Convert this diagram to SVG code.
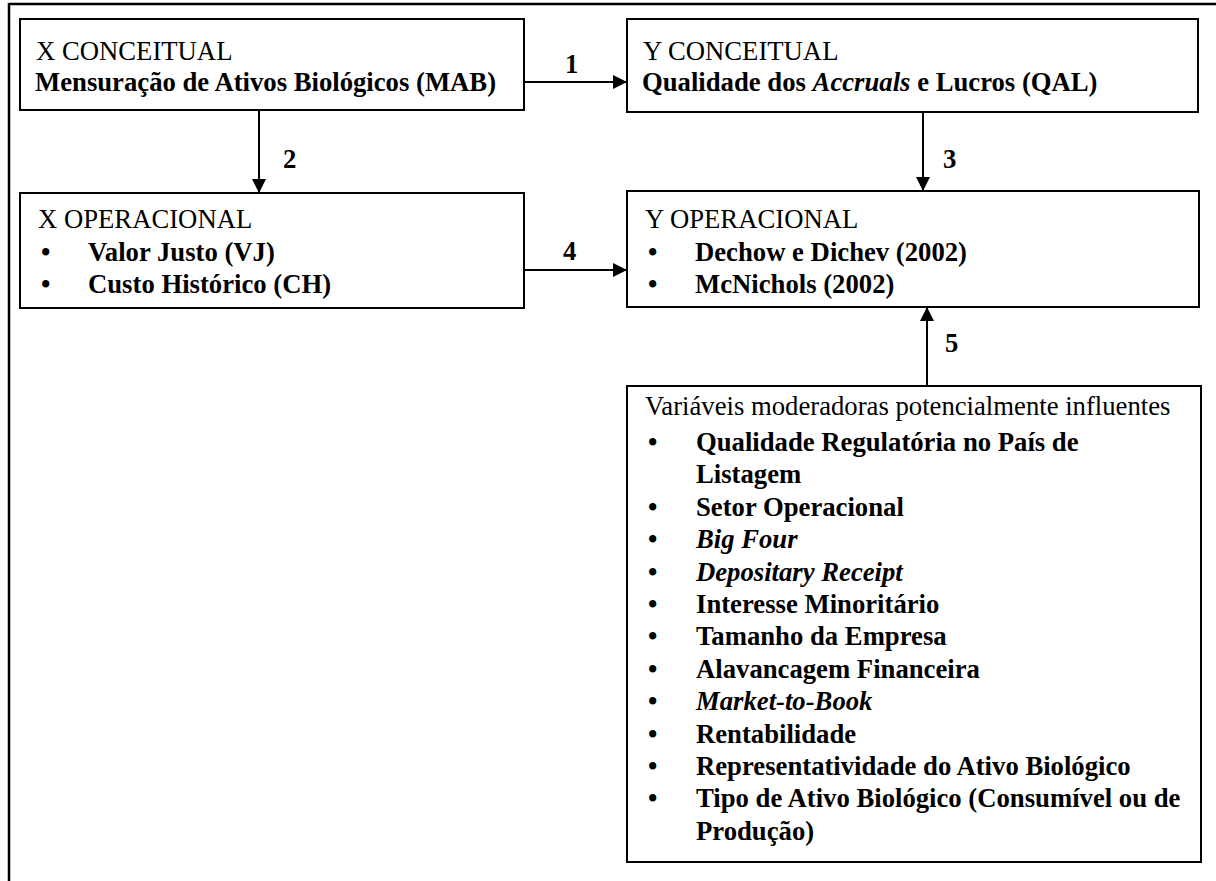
<svg xmlns="http://www.w3.org/2000/svg" width="1216" height="881" viewBox="0 0 1216 881">
<style>
.box{fill:#fff;stroke:#000;stroke-width:2}
.frame{stroke:#000;stroke-width:2.5;fill:none}
text{font-family:"Liberation Serif","Times New Roman",serif;font-size:26.7px;fill:#000}
.b{font-weight:bold}
.i{font-style:italic}
.bu{font-weight:bold}
.con{stroke:#000;stroke-width:2;fill:none}
</style>
<defs>
<marker id="arr" viewBox="0 0 14 14" refX="14" refY="7" markerWidth="14" markerHeight="14" markerUnits="userSpaceOnUse" orient="auto">
<path d="M0,0 L14,7 L0,14 Z" fill="#000"/>
</marker>
</defs>
<rect width="1216" height="881" fill="#fff"/>
<g id="frame">
<line class="frame" x1="9" y1="4" x2="1216" y2="4"/>
<line class="frame" x1="9" y1="3" x2="9" y2="881"/>
</g>
<g id="connectors">
<line class="con" x1="524" y1="82" x2="627" y2="82" marker-end="url(#arr)"/>
<line class="con" x1="259" y1="110" x2="259" y2="193" marker-end="url(#arr)"/>
<line class="con" x1="923" y1="112" x2="923" y2="191" marker-end="url(#arr)"/>
<line class="con" x1="524" y1="270" x2="627" y2="270" marker-end="url(#arr)"/>
<line class="con" x1="927" y1="386" x2="927" y2="307" marker-end="url(#arr)"/>
<text class="b" x="565" y="73">1</text>
<text class="b" x="283" y="168">2</text>
<text class="b" x="943" y="168">3</text>
<text class="b" x="563" y="260">4</text>
<text class="b" x="945" y="352">5</text>
</g>
<g id="x-conceitual">
<rect class="box" x="20" y="19" width="504" height="91"/>
<text x="36" y="60">X CONCEITUAL</text>
<text class="b" x="35" y="91">Mensuração de Ativos Biológicos (MAB)</text>
</g>
<g id="y-conceitual">
<rect class="box" x="627" y="19" width="571" height="93"/>
<text x="643" y="60">Y CONCEITUAL</text>
<text class="b" x="642" y="91">Qualidade dos <tspan class="i">Accruals</tspan> e Lucros (QAL)</text>
</g>
<g id="x-operacional">
<rect class="box" x="20" y="193" width="504" height="115"/>
<text x="38" y="228">X OPERACIONAL</text>
<text class="bu" x="41" y="261">•</text>
<text class="b" x="88" y="261">Valor Justo (VJ)</text>
<text class="bu" x="41" y="293">•</text>
<text class="b" x="88" y="293">Custo Histórico (CH)</text>
</g>
<g id="y-operacional">
<rect class="box" x="627" y="191" width="572" height="116"/>
<text x="645" y="228">Y OPERACIONAL</text>
<text class="bu" x="648" y="261">•</text>
<text class="b" x="695" y="261">Dechow e Dichev (2002)</text>
<text class="bu" x="648" y="293">•</text>
<text class="b" x="695" y="293">McNichols (2002)</text>
</g>
<g id="moderadoras">
<rect class="box" x="627" y="386" width="574" height="476"/>
<text x="645" y="415">Variáveis moderadoras potencialmente influentes</text>
<text class="bu" x="648" y="451">•</text>
<text class="b" x="696" y="451">Qualidade Regulatória no País de</text>
<text class="b" x="696" y="483.4">Listagem</text>
<text class="bu" x="648" y="515.8">•</text>
<text class="b" x="696" y="515.8">Setor Operacional</text>
<text class="bu" x="648" y="548.2">•</text>
<text class="b i" x="696" y="548.2">Big Four</text>
<text class="bu" x="648" y="580.6">•</text>
<text class="b i" x="696" y="580.6">Depositary Receipt</text>
<text class="bu" x="648" y="613">•</text>
<text class="b" x="696" y="613">Interesse Minoritário</text>
<text class="bu" x="648" y="645.4">•</text>
<text class="b" x="696" y="645.4">Tamanho da Empresa</text>
<text class="bu" x="648" y="677.8">•</text>
<text class="b" x="696" y="677.8">Alavancagem Financeira</text>
<text class="bu" x="648" y="710.2">•</text>
<text class="b i" x="696" y="710.2">Market-to-Book</text>
<text class="bu" x="648" y="742.6">•</text>
<text class="b" x="696" y="742.6">Rentabilidade</text>
<text class="bu" x="648" y="775">•</text>
<text class="b" x="696" y="775">Representatividade do Ativo Biológico</text>
<text class="bu" x="648" y="807.4">•</text>
<text class="b" x="696" y="807.4">Tipo de Ativo Biológico (Consumível ou de</text>
<text class="b" x="696" y="839.8">Produção)</text>
</g>
</svg>
